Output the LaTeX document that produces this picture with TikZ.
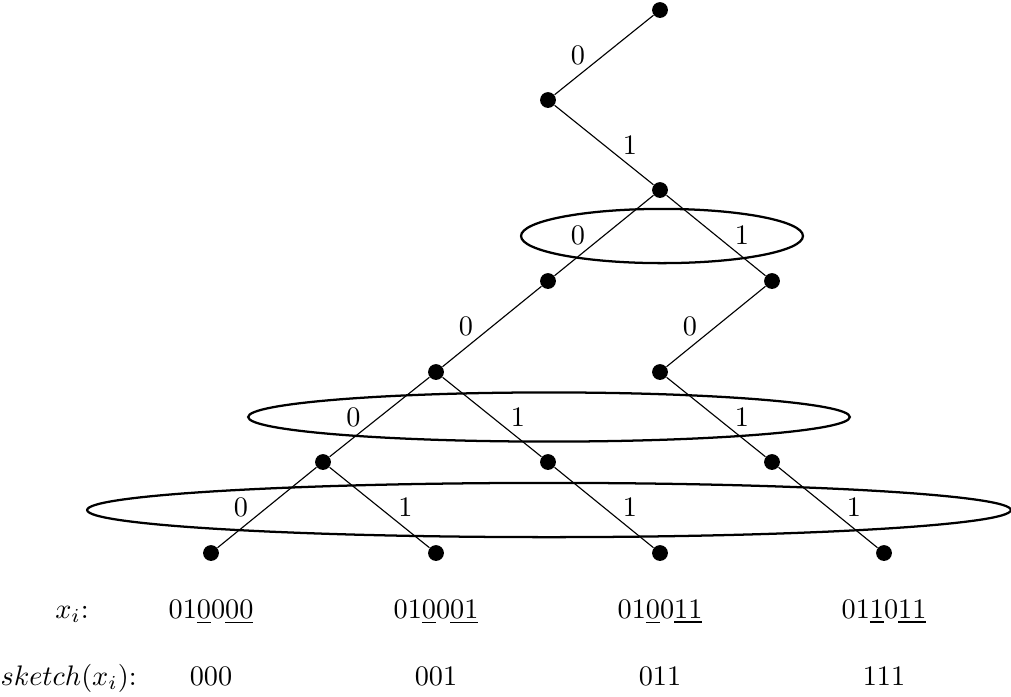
\documentclass[tikz,border=0pt]{standalone}
\begin{document}
\begin{tikzpicture}[x=0.354pt,y=-0.354pt,
  dot/.style={circle,fill=black,inner sep=0pt,minimum size=5.6pt},
  edge/.style={line width=0.4pt},
  lblL/.style={midway,xshift=-9.2pt},
  lblR/.style={midway,xshift=9.2pt},
  ring/.style={line width=0.8pt},
  rowtxt/.style={anchor=base,inner sep=0pt}]
\useasboundingbox (0,0) rectangle (1011,696);
% nodes
\node[dot] (r) at (660,10) {};
\node[dot] (a) at (548,100) {};
\node[dot] (b) at (660,190) {};
\node[dot] (c1) at (548,281) {};
\node[dot] (c2) at (772,281) {};
\node[dot] (d1) at (436,372) {};
\node[dot] (d2) at (660,372) {};
\node[dot] (e1) at (323,462) {};
\node[dot] (e2) at (548,462) {};
\node[dot] (e3) at (772,462) {};
\node[dot] (f1) at (211,553) {};
\node[dot] (f2) at (436,553) {};
\node[dot] (f3) at (660,553) {};
\node[dot] (f4) at (884,553) {};
% ellipses
\draw[ring] (662,236) ellipse [x radius=49.9pt, y radius=9.6pt];
\draw[ring] (549,417) ellipse [x radius=106.5pt, y radius=8.7pt];
\draw[ring] (549,510) ellipse [x radius=163.5pt, y radius=9.6pt];
% edges
\draw[edge] (r) -- node[lblL] {0} (a);
\draw[edge] (a) -- node[lblR] {1} (b);
\draw[edge] (b) -- node[lblL] {0} (c1);
\draw[edge] (b) -- node[lblR] {1} (c2);
\draw[edge] (c1) -- node[lblL] {0} (d1);
\draw[edge] (c2) -- node[lblL] {0} (d2);
\draw[edge] (d1) -- node[lblL] {0} (e1);
\draw[edge] (d1) -- node[lblR] {1} (e2);
\draw[edge] (d2) -- node[lblR] {1} (e3);
\draw[edge] (e1) -- node[lblL] {0} (f1);
\draw[edge] (e1) -- node[lblR] {1} (f2);
\draw[edge] (e2) -- node[lblR] {1} (f3);
\draw[edge] (e3) -- node[lblR] {1} (f4);
% rows
\node[rowtxt] (xl) at (72,618) {$x_i$:};
\node[rowtxt] (x1) at (211,618) {01\underline{0}0\underline{00}};
\node[rowtxt] (x2) at (436,618) {01\underline{0}0\underline{01}};
\node[rowtxt] (x3) at (660,618) {01\underline{0}0\underline{11}};
\node[rowtxt] (x4) at (884,618) {01\underline{1}0\underline{11}};
\node[rowtxt,anchor=base west] (sl) at (0,685) {$sketch(x_i)$:};
\node[rowtxt] (s1) at (211,685) {000};
\node[rowtxt] (s2) at (436,685) {001};
\node[rowtxt] (s3) at (660,685) {011};
\node[rowtxt] (s4) at (884,685) {111};
\end{tikzpicture}
\end{document}
